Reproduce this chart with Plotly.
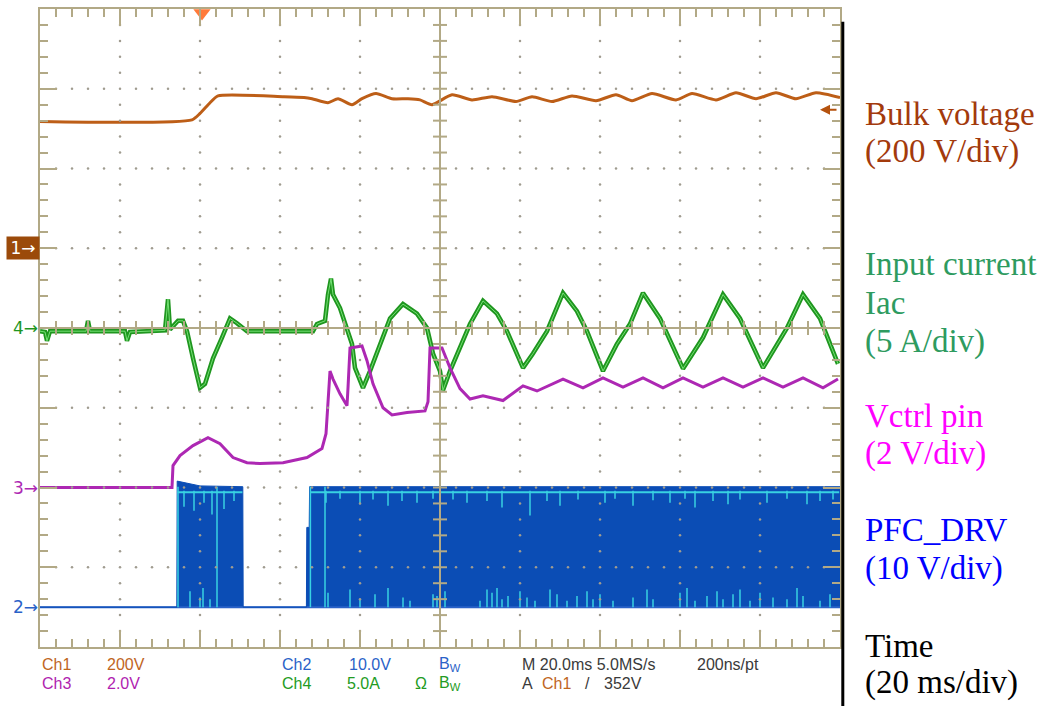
import plotly.graph_objects as go

# Screen: 10 div x 20 ms/div = 0..200 ms, 8 vertical divisions (-4..4)
# Ch1 bulk voltage (V), 200 V/div, ground marker at +1 div
bulk_t = [0, 38, 40, 42.5, 44.5, 61, 66, 68, 72, 74.5, 78, 80.5, 84, 88, 92, 95, 98, 103, 108, 113,
          119, 123, 128, 133, 139, 144, 148, 153, 159, 163, 169, 174, 179, 184, 189, 194, 200]
bulk_v = [318, 322, 338, 365, 382, 380, 378, 375, 365, 375, 360, 375, 388, 375, 375, 372, 360, 385, 372, 380,
          368, 380, 368, 382, 370, 385, 370, 388, 372, 388, 372, 390, 375, 390, 375, 390, 378]

# Ch4 input current Iac (A), 5 A/div, ground at 0 div
iac_t = [0, 1.25, 1.75, 2.5, 11.5, 12, 12.5, 21.25, 21.75, 22.5,
         31.25, 32, 32.5, 34.5, 35.75, 36.75, 38.25, 40, 41.25, 43.25,
         45.5, 47.5, 49.25, 51.75, 68.25, 69.25, 71.25, 72, 72.75, 73.25,
         75, 76.75, 78, 78.75, 80.75, 82.5, 85, 87.5, 90.75, 94.25,
         96.75, 98.25, 100, 100.75, 102.5, 105, 107.5, 110.75, 114.25, 116.75,
         119.25, 120.75, 123.25, 126.75, 130.75, 134.25, 136.75, 140.75, 144.25, 147.5,
         150.75, 155, 160.75, 165.75, 170.75, 175, 180.75, 186.75, 190.75, 195, 199.5]
iac_a = [-0.2, -0.25, -0.8, -0.2, -0.2, 0.45, -0.2, -0.2, -0.8, -0.25,
         -0.15, 1.8, -0.1, 0.45, 0.45, -0.2, -1.9, -3.75, -3.5, -1.9,
         -0.6, 0.6, 0.3, -0.2, -0.2, 0.25, 0.45, 2.1, 3.1, 2.1,
         1.25, 0.0, -1.0, -2.5, -3.75, -2.7, -1.0, 0.6, 1.5, 0.9,
         0.0, -1.6, -2.7, -3.9, -2.7, -1.25, 0.25, 1.7, 0.9, -0.2,
         -1.6, -2.5, -1.6, -0.2, 2.2, 1.05, -0.2, -2.7, -1.0, 0.25,
         2.2, 0.6, -2.55, -0.6, 2.1, 0.6, -2.5, 0.0, 2.1, 0.6, -2.25]

# Ch3 Vctrl pin (V), 2 V/div, ground at -2 div
vctrl_t = [0, 33, 33.25, 35, 38.25, 42, 45, 48.25, 51.75, 55,
           60.75, 66.75, 70.5, 71.5, 72.5, 73.25, 75, 76.75, 77, 77.5,
           80.5, 81.75, 83.25, 85.75, 88, 91.75, 96.25, 97, 97.5, 100.5,
           102.5, 105, 107.5, 110.75, 115.75, 120.75, 124.25, 130.75, 135.75, 140.75,
           145.75, 150.75, 155.75, 160.75, 165.75, 170.75, 175.75, 180.75, 185.75, 190.75,
           195.75, 199.5]
vctrl_v = [0.0, 0.0, 0.55, 0.8, 1.05, 1.25, 1.1, 0.75, 0.62, 0.6,
           0.62, 0.75, 0.98, 1.35, 2.92, 2.72, 2.35, 2.05, 2.5, 3.5,
           3.55, 3.18, 2.6, 2.0, 1.82, 1.88, 1.92, 2.15, 3.5, 3.5,
           3.0, 2.48, 2.22, 2.3, 2.18, 2.55, 2.42, 2.72, 2.5, 2.75,
           2.52, 2.75, 2.5, 2.75, 2.52, 2.75, 2.52, 2.75, 2.52, 2.75,
           2.5, 2.72]

# Ch2 PFC_DRV switching envelope (V), 10 V/div, ground at -3.5 div
drv_t = [0, 34.2, 34.3, 40, 50.7, 50.8, 66.6, 66.7, 67.3, 67.4, 200]
drv_v = [0, 0, 15.8, 15.2, 15.1, 0, 0, 10, 10, 15.1, 15.1]
drv_high = 15.1
burst_start = [34.4, 67.5]
burst_end = [50.6, 199.8]
edge_t = [34.5, 44.25, 67.6, 71.25]
top_spike_t = [36, 38.5, 41, 43, 46, 48.5, 71.5, 75, 80, 83.25, 87, 90.5, 94.25, 98.25,
               100, 103.25, 106.75, 111.75, 115.5, 122.5, 126.75, 130, 134.5,
               141.25, 143.75, 148.25, 153.25, 157.5, 161.25, 163.75, 168.25,
               172, 175, 181.75, 186.75, 191.75, 195, 198.25]
top_spike_v = [2.5, 3.0, 2.0, 3.5, 2.8, 1.8, 2.0, 1.5, 2.2, 1.6, 2.4, 1.8, 2.0, 1.5,
               2.2, 1.6, 2.0, 1.8, 2.6, 3.6, 1.8, 2.4, 1.6,
               2.0, 1.5, 2.4, 1.7, 2.0, 1.5, 2.6, 1.8,
               2.2, 1.6, 2.0, 1.5, 2.2, 1.8, 1.6]
bot_spike_t = [37.5, 40, 40.75, 42.5, 72, 77.5, 80, 83.75, 87, 90.75, 92.5, 98.25,
               99.25, 101.25, 110, 111.75, 113, 114.25, 115.5, 117,
               120, 121.75, 123.75, 127.5, 129.25, 131.75, 134.25, 136.75,
               138.25, 140, 143.25, 148.25, 151.75, 153.25, 160, 161.75,
               163.75, 166.75, 169.25, 170.75, 173.25, 175, 177.5, 180,
               183.25, 186.75, 189.25, 190.75, 195, 197.5]
bot_spike_v = [2.0, 1.2, 2.4, 1.0, 1.8, 2.2, 1.0, 1.6, 2.4, 1.2,
               0.8, 1.6, 1.4, 2.0, 0.8, 2.2, 1.8, 2.4, 1.0, 1.4,
               2.0, 1.2, 0.8, 2.2, 1.6, 0.8, 1.4, 2.0, 1.0, 1.6,
               0.8, 1.2, 2.2, 1.0, 1.8, 2.4, 0.8, 1.4, 2.0, 1.0,
               1.6, 2.2, 0.8, 1.8, 1.2, 1.0, 2.4, 1.4, 0.8, 1.6]

GRID = "#b2a986"
DOT = "#a09c90"
C_BULK = "#bd5e17"
C_IAC = "#1f961f"
C_IAC_HI = "#74e074"
C_VCTRL = "#ad28b3"
C_DRV = "#0b4db5"
C_CYAN = "#38d2e2"
C_CH2 = "#2a62c8"


def to_div(vals, per_div, offset):
    return [v / per_div + offset for v in vals]


def segments(xs, y0s, y1s):
    sx, sy = [], []
    for x, a, b in zip(xs, y0s, y1s):
        sx += [x, x, None]
        sy += [a, b, None]
    return sx, sy


fig = go.Figure()

# PFC_DRV: ground line + filled switching envelope
fig.add_trace(go.Scatter(x=[0, 200], y=to_div([0, 0], 10, -3.5), mode="lines",
                         line={"color": C_CH2, "width": 2}, hoverinfo="skip"))
fig.add_trace(go.Scatter(x=drv_t, y=to_div(drv_v, 10, -3.5), mode="lines", fill="tonexty",
                         fillcolor=C_DRV, line={"color": C_DRV, "width": 1}, hoverinfo="skip"))

# cyan fringe at the top of each burst
bx, by = [], []
for s, e in zip(burst_start, burst_end):
    bx += [s, e, None]
    by += [(drv_high - 0.7) / 10 - 3.5] * 2 + [None]
fig.add_trace(go.Scatter(x=bx, y=by, mode="lines", line={"color": C_CYAN, "width": 2}, hoverinfo="skip"))
sx, sy = segments(top_spike_t, to_div([drv_high - 0.5] * len(top_spike_t), 10, -3.5),
                  to_div([drv_high - d for d in top_spike_v], 10, -3.5))
fig.add_trace(go.Scatter(x=sx, y=sy, mode="lines", line={"color": C_CYAN, "width": 1.5}, hoverinfo="skip"))
sx, sy = segments(bot_spike_t, to_div([0] * len(bot_spike_t), 10, -3.5), to_div(bot_spike_v, 10, -3.5))
fig.add_trace(go.Scatter(x=sx, y=sy, mode="lines", line={"color": C_CYAN, "width": 1.5}, hoverinfo="skip"))
sx, sy = segments(edge_t, to_div([0] * len(edge_t), 10, -3.5), to_div([drv_high] * len(edge_t), 10, -3.5))
fig.add_trace(go.Scatter(x=sx, y=sy, mode="lines", line={"color": C_CYAN, "width": 1.5}, hoverinfo="skip"))

# Bulk voltage
fig.add_trace(go.Scatter(x=bulk_t, y=to_div(bulk_v, 200, 1), mode="lines",
                         line={"color": C_BULK, "width": 3, "shape": "spline", "smoothing": 0.6},
                         hoverinfo="skip"))
# Input current
fig.add_trace(go.Scatter(x=iac_t, y=to_div(iac_a, 5, 0), mode="lines",
                         line={"color": C_IAC, "width": 4.5}, hoverinfo="skip"))
fig.add_trace(go.Scatter(x=iac_t, y=to_div(iac_a, 5, 0), mode="lines",
                         line={"color": C_IAC_HI, "width": 1}, hoverinfo="skip"))
# Vctrl
fig.add_trace(go.Scatter(x=vctrl_t, y=to_div(vctrl_v, 2, -2), mode="lines",
                         line={"color": C_VCTRL, "width": 3}, hoverinfo="skip"))

# graticule: centre-line ticks and dotted grid, drawn over the traces
tx, ty = [], []
for i in range(1, 50):
    tx += [i * 4, i * 4, None]
    ty += [-0.0875, 0.0875, None]
for i in range(1, 40):
    d = -4 + i * 0.2
    tx += [98.25, 101.75, None]
    ty += [d, d, None]
fig.add_trace(go.Scatter(x=tx, y=ty, mode="lines", line={"color": GRID, "width": 2}, hoverinfo="skip"))

dx, dy = [], []
for d in [-3, -2, -1, 1, 2, 3]:
    for i in range(1, 50):
        if i * 4 != 100:
            dx.append(i * 4)
            dy.append(d)
for t in [20, 40, 60, 80, 120, 140, 160, 180]:
    for i in range(1, 40):
        d = round(-4 + i * 0.2, 2)
        if d != 0 and d != int(d):
            dx.append(t)
            dy.append(d)
fig.add_trace(go.Scatter(x=dx, y=dy, mode="markers", marker={"color": DOT, "size": 2.5},
                         hoverinfo="skip"))

# trigger position marker
fig.add_trace(go.Scatter(x=[40.5], y=[3.95], mode="markers", cliponaxis=False,
                         marker={"symbol": "triangle-down", "size": 15, "color": "#ff7a3a"},
                         hoverinfo="skip"))

fig.add_shape(type="line", x0=0, x1=200, y0=0, y1=0, layer="above", line={"color": GRID, "width": 2})
fig.add_shape(type="line", x0=100, x1=100, y0=-4, y1=4, layer="above", line={"color": GRID, "width": 2})
fig.add_shape(type="line", xref="paper", yref="paper", x0=1.0035, x1=1.0035, y0=-0.093, y1=0.98,
              line={"color": "#000000", "width": 3})


def py(p):
    return (647 - p) / 640


def px(p):
    return (p - 40) / 800


# channel ground markers
fig.add_annotation(xref="paper", yref="y", x=0, y=1, xanchor="right", text="1→", showarrow=False,
                   font={"family": "DejaVu Sans", "size": 17, "color": "white"},
                   bgcolor="#9b4a0a", width=30, height=20, borderpad=1)
for label, lvl, col in [("4→", 0, C_IAC), ("3→", -2, C_VCTRL), ("2→", -3.5, C_CH2)]:
    fig.add_annotation(xref="paper", yref="y", x=0, y=lvl, xanchor="right", text=label, showarrow=False,
                       font={"family": "DejaVu Sans", "size": 17, "color": col})
# trigger level indicator
fig.add_annotation(xref="paper", yref="paper", x=px(820), y=py(108), ax=18, ay=0, text="",
                   showarrow=True, arrowhead=2, arrowsize=1, arrowwidth=2, arrowcolor="#b5520e")

# scope readout
C1, C3, C4, DARK = "#c0651e", "#b01eb0", "#239b23", "#3a3a3a"
readout = [
    ("Ch1", 40, 665, C1), ("200V", 105, 665, C1), ("Ch2", 280, 665, C_CH2), ("10.0V", 347, 665, C_CH2),
    ("B<sub>W</sub>", 437, 665, C_CH2), ("M 20.0ms 5.0MS/s", 520, 665, DARK), ("200ns/pt", 695, 665, DARK),
    ("Ch3", 40, 684, C3), ("2.0V", 105, 684, C3), ("Ch4", 280, 684, C4), ("5.0A", 345, 684, C4),
    ("Ω", 413, 684, C4), ("B<sub>W</sub>", 437, 684, C4), ("A", 520, 684, DARK), ("Ch1", 540, 684, C1),
    ("/", 583, 684, DARK), ("352V", 602, 684, DARK),
]
for text, x, y, col in readout:
    fig.add_annotation(xref="paper", yref="paper", x=px(x), y=py(y), xanchor="left", yanchor="middle",
                       text=text, showarrow=False,
                       font={"family": "Liberation Sans", "size": 16, "color": col})

# side labels
side = [
    ("Bulk voltage", 112, "#a33a0c"), ("(200 V/div)", 150, "#a33a0c"),
    ("Input current", 263, "#2e9b60"), ("Iac", 302, "#2e9b60"), ("(5 A/div)", 341, "#2e9b60"),
    ("Vctrl pin", 415, "#ff00ff"), ("(2 V/div)", 453, "#ff00ff"),
    ("PFC_DRV", 530, "#0000ff"), ("(10 V/div)", 568, "#0000ff"),
    ("Time", 646, "#000000"), ("(20 ms/div)", 683, "#000000"),
]
for text, y, col in side:
    fig.add_annotation(xref="paper", yref="paper", x=px(863), y=py(y), xanchor="left", yanchor="middle",
                       text=text, showarrow=False,
                       font={"family": "Liberation Serif", "size": 33, "color": col})

axis_common = dict(showgrid=False, zeroline=False, showticklabels=False, ticks="inside",
                   tickcolor=GRID, tickwidth=2, ticklen=17, showline=True, linecolor=GRID,
                   linewidth=2, mirror="allticks", fixedrange=True)
fig.update_xaxes(range=[0, 200], tick0=0, dtick=20,
                 minor={"dtick": 4, "ticks": "inside", "ticklen": 8, "tickwidth": 2, "tickcolor": GRID,
                        "showgrid": False}, **axis_common)
fig.update_yaxes(range=[-4, 4], tick0=0, dtick=1,
                 minor={"dtick": 0.2, "ticks": "inside", "ticklen": 8, "tickwidth": 2, "tickcolor": GRID,
                        "showgrid": False}, **axis_common)
fig.update_layout(
    width=1042,
    height=706,
    margin={"l": 40, "r": 202, "t": 7, "b": 59},
    paper_bgcolor="white",
    plot_bgcolor="white",
    showlegend=False,
)

# drop the default page margin so the figure sits at the window origin
fig.write_html("out.html", config={"displayModeBar": False},
               post_script="document.body.style.margin='0';")
